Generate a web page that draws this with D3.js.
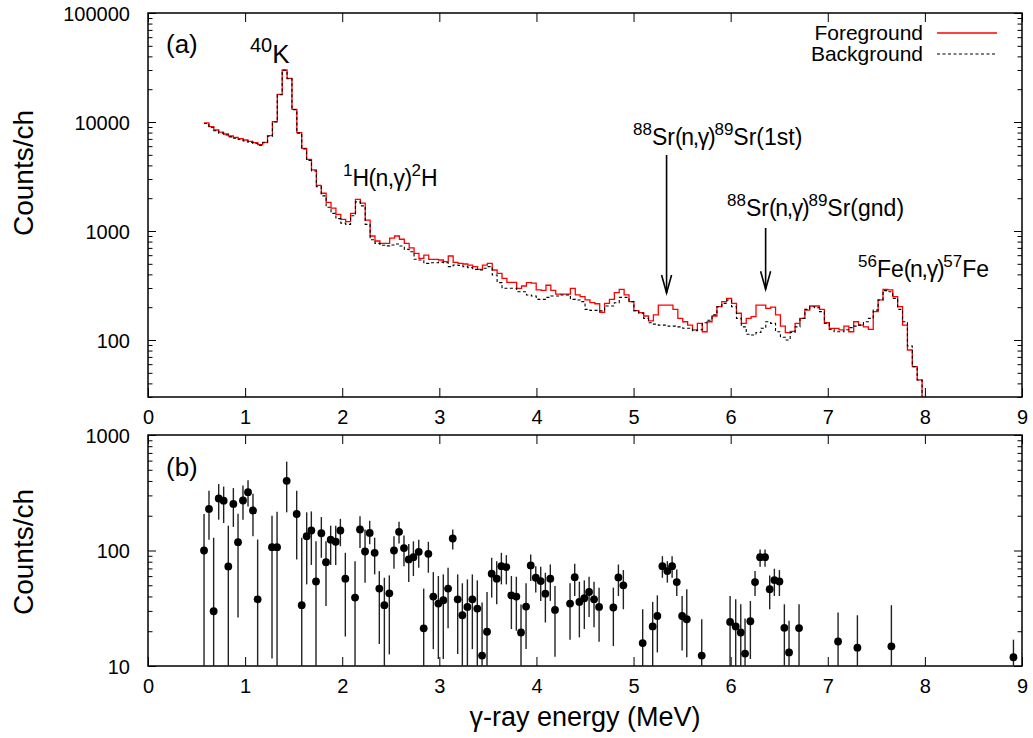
<!DOCTYPE html>
<html><head><meta charset="utf-8">
<script src="https://cdn.jsdelivr.net/npm/d3@7"></script>
<style>
body{margin:0;background:#fff}
svg text{font-family:"Liberation Sans",Arial,Helvetica,sans-serif;fill:#000}
</style>
</head><body>
<svg id="c" width="1033" height="738"></svg>
<script>
// ---------------- DATA ----------------
// Histogram channel calibration (MeV): first channel edge and channel width
const binStart = 0.577;
const binWidth = 0.0503;
// Panel (a): counts per channel
const foreground = [
 9800,9060,8450,8090,7760,7440,7230,7030,6840,6650,
 6460,6190,6510,7490,10060,17950,30000,25180,13070,7980,
 5740,4550,3630,2620,2220,1830,1620,1420,1280,1220,
 1450,1950,1800,1260,900,810,770,770,860,900,
 840,770,700,624,561,602,550,550,542,523,
 590,516,505,498,487,471,445,487,505,439,
 409,368,338,338,298,313,336,333,288,285,
 318,285,264,264,264,298,259,250,233,220,
 215,179,217,236,272,292,259,225,186,178,
 166,150,170,209,209,209,191,158,147,137,
 124,142,119,147,166,202,225,241,217,176,
 142,158,164,209,209,195,200,170,134,117,
 120,142,158,188,205,205,191,144,128,128,
 124,134,119,147,137,132,125,182,233,292,
 288,250,202,137,81,57,43,20];
const background = [
 9700,8900,8300,7900,7600,7300,7100,6900,6700,6500,
 6350,6100,6450,7400,10000,17800,29800,25000,13000,7900,
 5650,4450,3550,2550,2100,1650,1450,1300,1180,1150,
 1380,1850,1700,1150,830,770,740,730,744,760,
 728,679,646,550,542,505,512,512,518,512,
 471,487,484,471,461,445,439,455,471,395,
 336,298,298,298,277,277,259,253,236,236,
 246,253,253,259,259,236,233,225,191,187,
 187,185,205,205,220,246,246,225,186,176,
 158,144,140,137,137,134,134,132,128,128,
 122,124,144,152,170,202,217,233,202,158,
 132,113,111,117,128,147,142,119,106,100,
 117,132,158,191,202,198,182,142,125,119,
 119,124,130,134,137,147,158,188,233,284,
 277,241,191,147,88,57,43,20];
// Panel (b): net counts with error bars
const diffEnergy = [0.577,0.628,0.676,0.728,0.779,0.827,0.879,0.927,0.978,1.030,1.081,1.129,1.277,1.329,1.428,1.531,1.583,1.634,1.682,1.730,1.785,1.833,1.881,1.933,1.981,2.032,2.132,2.183,2.235,2.283,2.334,2.382,2.434,2.485,2.533,2.585,2.636,2.685,2.733,2.788,2.839,2.887,2.938,2.990,3.041,3.090,3.138,3.189,3.237,3.289,3.340,3.391,3.440,3.491,3.539,3.591,3.639,3.690,3.742,3.793,3.841,3.893,3.941,3.993,4.044,4.092,4.143,4.191,4.346,4.394,4.442,4.493,4.542,4.593,4.645,4.792,4.844,4.895,5.094,5.197,5.245,5.297,5.348,5.397,5.445,5.500,5.548,5.702,5.994,6.052,6.104,6.148,6.203,6.251,6.303,6.354,6.402,6.450,6.502,6.553,6.601,6.704,7.106,7.305,7.655,8.912];
const diffCounts = [100,229,29.8,282,270,72.8,253,118,271,320,
 222,37.8,106.8,106.8,401,207,33.6,133,149,54,
 141,79.3,124,119,149,57,39.1,152,98,142,
 95.5,46.8,33.6,42.6,100,145,105,83.7,87.6,97.4,
 21.2,93.6,39.9,34.7,37.1,46.8,127,37.8,27.5,32.5,
 37.8,31.4,12.3,19.8,63,57,73.2,71.8,40.9,39.9,
 19.5,32.7,74.2,58.1,54.4,42.3,57,30.6,34.7,58.8,
 35.9,38.6,43.7,37.8,32.5,32.1,58.5,49.9,15.8,22.0,
 27.1,73.2,66.4,73.2,53.3,27.1,25.4,12.3,24.1,22.0,
 19.5,12.8,24.4,53.3,87.6,87.6,46.2,55.4,54.0,21.4,
 13.1,21.3,16.3,14.4,14.8,11.9];
const diffLow = [5,124,5,185,173,5,160,26.3,185,241,
 133,5,11.6,5,214,83.6,5,50.9,75,5,
 86.5,33.1,75,75,109,18,5,105,52.7,113,
 62.1,15.5,5,12.6,69.5,115,73,53.3,60.1,70.9,
 5,64.2,14,11.5,11.5,21.2,102,12.7,5,5,
 14,5,5,5,39.1,34.2,50.9,50.9,20.9,20.2,
 5,14,54.4,43.2,36.6,23.8,36.6,12,16.9,40.4,
 17.7,20.9,26.6,21.6,16.2,14.9,40.4,31.0,5,5,
 13.1,58.1,52.7,58.1,40.4,13.6,11.9,5,5,5,
 5,5,11.5,40.4,72.4,72.4,31.0,40.4,40.4,5,
 5,5,5,5,5,5];
const diffHigh = [207,329,129,376,358,164,347,208,365,406,
 310,124.5,200,217,588,329,129,214,218,120,
 195,120,164,164,188,95.5,80.9,198,152,181,
 129,66.3,58.1,60.9,133,177,135,114,120,124,
 46.8,119,65,60.1,62.1,70.9,152,62.1,52,56.2,
 62.1,55.1,35.4,43.7,86.5,80.9,95.5,91.1,60.1,59.3,
 34,52,92.4,73.2,72.4,64.2,75.7,49.3,52,76.8,
 53.7,55.1,59.3,53.7,47.7,47.7,75.7,67.7,31.0,35.9,
 40.9,89.3,80.9,89.3,68.6,40.4,46.1,25.4,40.4,37.8,
 34.2,25.8,36.6,66.4,102,102,60.9,69.5,67.7,34.2,
 24.6,34.2,29.0,27.5,33.6,16.9];
// Axis ticks / labels
const xTicks = [0,1,2,3,4,5,6,7,8,9];
const topYTicks = [100,1000,10000,100000];
const botYTicks = [10,100,1000];
const seriesNames = ["Foreground","Background"];
const xTitle = "\u03b3-ray energy (MeV)";
const yTitle = "Counts/ch";

// ---------------- LAYOUT ----------------
const svg = d3.select('#c');
const L = 148, R = 1022, T1 = 13, B1 = 397, T2 = 435, B2 = 666;
const x = d3.scaleLinear().domain([0, 9]).range([L, R]);
const yTop = d3.scaleLog().domain([30, 100000]).range([B1, T1]);
const yBot = d3.scaleLog().domain([10, 1000]).range([B2, T2]);
const FONT = '"Liberation Sans",Arial,Helvetica,sans-serif';

const defs = svg.append('defs');
defs.append('clipPath').attr('id','clipTop').append('rect')
  .attr('x', L).attr('y', T1).attr('width', R - L).attr('height', B1 - T1);
defs.append('clipPath').attr('id','clipBot').append('rect')
  .attr('x', L).attr('y', T2).attr('width', R - L).attr('height', B2 - T2);

function styleAxis(g, showLabels) {
  g.attr('font-family', FONT).attr('font-size', 20);
  g.select('.domain').remove();
  g.selectAll('.tick line').attr('stroke', '#000').attr('stroke-width', 1);
  if (!showLabels) g.selectAll('.tick text').remove();
  else g.selectAll('.tick text').attr('fill', '#000');
}

function panel(y, top, bottom, majors) {
  const minors = y.ticks().filter(v => !majors.includes(v));
  svg.append('g').attr('transform', `translate(0,${bottom})`)
    .call(d3.axisBottom(x).tickValues(xTicks).tickSize(-9).tickSizeOuter(0).tickPadding(13).tickFormat(d3.format('d')))
    .call(g => styleAxis(g, true));
  svg.append('g').attr('transform', `translate(0,${top})`)
    .call(d3.axisTop(x).tickValues(xTicks).tickSize(-9).tickSizeOuter(0))
    .call(g => styleAxis(g, false));
  svg.append('g').attr('transform', `translate(${L},0)`)
    .call(d3.axisLeft(y).tickValues(majors).tickSize(-8).tickSizeOuter(0).tickPadding(18).tickFormat(d3.format('d')))
    .call(g => styleAxis(g, true))
    .call(g => g.selectAll('.tick text').attr('dy', '0.36em'));
  svg.append('g').attr('transform', `translate(${L},0)`)
    .call(d3.axisLeft(y).tickValues(minors).tickSize(-4.5).tickSizeOuter(0))
    .call(g => styleAxis(g, false));
  svg.append('g').attr('transform', `translate(${R},0)`)
    .call(d3.axisRight(y).tickValues(majors).tickSize(-8).tickSizeOuter(0))
    .call(g => styleAxis(g, false));
  svg.append('g').attr('transform', `translate(${R},0)`)
    .call(d3.axisRight(y).tickValues(minors).tickSize(-4.5).tickSizeOuter(0))
    .call(g => styleAxis(g, false));
  svg.append('rect').attr('x', L).attr('y', top).attr('width', R - L).attr('height', bottom - top)
    .attr('fill', 'none').attr('stroke', '#000').attr('stroke-width', 1.5);
}

panel(yTop, T1, B1, topYTicks);
panel(yBot, T2, B2, botYTicks);

// ---------------- PANEL (a) ----------------
const stepLine = d3.line()
  .x((d, i) => x(binStart + i * binWidth))
  .y(d => yTop(d))
  .curve(d3.curveStepAfter);

const gTop = svg.append('g').attr('clip-path', 'url(#clipTop)');
gTop.append('path').datum(foreground).attr('d', stepLine)
  .attr('fill', 'none').attr('stroke', '#ff0000').attr('stroke-width', 1.3);
gTop.append('path').datum(background).attr('d', stepLine)
  .attr('fill', 'none').attr('stroke', '#000').attr('stroke-width', 1.1)
  .attr('stroke-dasharray', '3,2.5');

// legend
const legend = svg.append('g');
[[seriesNames[0], 40, 33, '#ff0000', null, 1.3], [seriesNames[1], 61, 54, '#000', '3,2.5', 1.1]]
  .forEach(([name, ty, ly, col, dash, sw]) => {
    legend.append('text').attr('x', 923).attr('y', ty).attr('text-anchor', 'end')
      .attr('font-size', 21).text(name);
    const ln = legend.append('line').attr('x1', 937).attr('x2', 997).attr('y1', ly).attr('y2', ly)
      .attr('stroke', col).attr('stroke-width', sw);
    if (dash) ln.attr('stroke-dasharray', dash);
  });

// rich text helper with superscripts
function rich(px, py, parts, size, supRatio) {
  const supSize = Math.round(size * (supRatio || 0.74)), raise = Math.round(size * 0.42);
  const t = svg.append('text').attr('x', px).attr('y', py).attr('font-size', size);
  let cur = 0;
  parts.forEach(p => {
    const target = p.sup ? -raise : 0;
    const ts = t.append('tspan').attr('dy', target - cur).text(p.t);
    if (p.sup) ts.attr('font-size', supSize);
    if (p.ls) ts.attr('letter-spacing', p.ls);
    cur = target;
  });
  return t;
}

rich(166, 53, [{t: '(a)'}], 26);
rich(250, 63, [{t: '40', sup: true}, {t: 'K'}], 26, 0.78);
rich(343, 186, [{t: '1', sup: true}, {t: 'H(n,\u03b3)', ls: -0.6}, {t: '2', sup: true}, {t: 'H'}], 23);
rich(633, 145, [{t: '88', sup: true}, {t: 'Sr'}, {t: '(n,\u03b3)', ls: -1.3}, {t: '89', sup: true}, {t: 'Sr(1st)'}], 23);
rich(727, 216, [{t: '88', sup: true}, {t: 'Sr'}, {t: '(n,\u03b3)', ls: -1.3}, {t: '89', sup: true}, {t: 'Sr(gnd)'}], 23);
rich(858, 277, [{t: '56', sup: true}, {t: 'Fe'}, {t: '(n,\u03b3)', ls: -1.3}, {t: '57', sup: true}, {t: 'Fe'}], 23);

// arrows (energy, counts from, counts to)
const arrows = [[5.34, 4980, 270], [6.36, 1066, 292]];
arrows.forEach(([e, c0, c1]) => {
  const ax = x(e), y0 = yTop(c0), y1 = yTop(c1);
  svg.append('line').attr('x1', ax).attr('x2', ax).attr('y1', y0).attr('y2', y1)
    .attr('stroke', '#000').attr('stroke-width', 1.6);
  svg.append('path').attr('d', `M${ax - 5},${y1 - 18}L${ax},${y1}L${ax + 5},${y1 - 18}`)
    .attr('fill', 'none').attr('stroke', '#000').attr('stroke-width', 1.6);
});

// ---------------- PANEL (b) ----------------
const pts = diffEnergy.map((e, i) => ({e, v: diffCounts[i], lo: diffLow[i], hi: diffHigh[i]}));
const gBot = svg.append('g').attr('clip-path', 'url(#clipBot)');
gBot.selectAll('line.err').data(pts).join('line').attr('class', 'err')
  .attr('x1', d => x(d.e)).attr('x2', d => x(d.e))
  .attr('y1', d => yBot(Math.max(d.lo, 1))).attr('y2', d => yBot(d.hi))
  .attr('stroke', '#222').attr('stroke-width', 1.4);
gBot.selectAll('circle').data(pts).join('circle')
  .attr('cx', d => x(d.e)).attr('cy', d => yBot(d.v)).attr('r', 3.9).attr('fill', '#000');

rich(166, 476, [{t: '(b)'}], 26);

// ---------------- TITLES ----------------
svg.append('text').attr('x', (L + R) / 2).attr('y', 726).attr('text-anchor', 'middle')
  .attr('font-size', 27).text(xTitle);
svg.append('text').attr('transform', 'translate(33,173) rotate(-90)').attr('text-anchor', 'middle')
  .attr('font-size', 28).text(yTitle);
svg.append('text').attr('transform', 'translate(33,552) rotate(-90)').attr('text-anchor', 'middle')
  .attr('font-size', 28).text(yTitle);
</script>
</body></html>
